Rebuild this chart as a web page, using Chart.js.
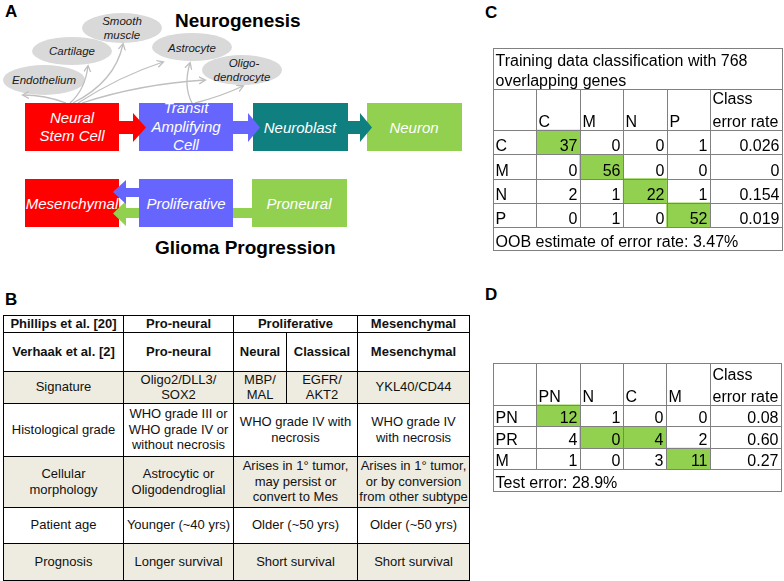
<!DOCTYPE html>
<html>
<head>
<meta charset="utf-8">
<script src="https://cdn.jsdelivr.net/npm/chart.js@4.4.0/dist/chart.umd.min.js"></script>
<style>
  html, body { margin: 0; padding: 0; background: #fff; }
  body { width: 784px; height: 581px; position: relative; overflow: hidden; font-family: "Liberation Sans", Arial, sans-serif; }
  #diagram { position: absolute; left: 0; top: 0; }
  .mat { position: absolute; }
  #tbl { position: absolute; left: 3px; top: 315px; width: 466px; border-collapse: collapse; table-layout: fixed;
         font-size: 13px; line-height: 15.5px; color: #111; border: 1.5px solid #000; }
  #tbl td { border: 1px solid #000; padding: 0; text-align: center; vertical-align: middle; white-space: nowrap; overflow: hidden; }
  #tbl tr.sh td { background: #eeece1; }
  #tbl tr.hd td { font-weight: bold; }
</style>
</head>
<body>
<svg id="diagram" width="784" height="581" xmlns="http://www.w3.org/2000/svg">
  <defs>
    <marker id="ah" markerWidth="9" markerHeight="9" refX="6" refY="4" orient="auto" markerUnits="userSpaceOnUse">
      <path d="M0,0.5 L6.5,4 L0,7.5" fill="none" stroke="#bfbfbf" stroke-width="1.3"/>
    </marker>
  </defs>
  <g font-family="'Liberation Sans', Arial, sans-serif">
    <text x="5" y="17" font-size="17" font-weight="bold">A</text>
    <text x="175" y="27" font-size="19" font-weight="bold">Neurogenesis</text>
    <text x="155" y="254" font-size="19" font-weight="bold">Glioma Progression</text>
    <text x="5" y="305" font-size="17" font-weight="bold">B</text>
    <text x="485" y="18" font-size="17" font-weight="bold">C</text>
    <text x="485" y="300" font-size="17" font-weight="bold">D</text>

    <!-- cell types reached from neural stem cells -->
    <g fill="#d9d9d9">
      <ellipse cx="44" cy="80" rx="41" ry="15"/>
      <ellipse cx="72" cy="51" rx="40" ry="14"/>
      <ellipse cx="122" cy="28" rx="40" ry="15"/>
      <ellipse cx="192" cy="47" rx="40" ry="14"/>
      <ellipse cx="242" cy="70" rx="40" ry="15"/>
    </g>
    <g fill="#1a1a1a" font-size="11.5" font-style="italic" text-anchor="middle">
      <text x="44" y="84">Endothelium</text>
      <text x="72" y="55">Cartilage</text>
      <text x="122" y="25">Smooth</text>
      <text x="122" y="39">muscle</text>
      <text x="192" y="52">Astrocyte</text>
      <text x="244" y="67">Oligo-</text>
      <text x="242" y="81">dendrocyte</text>
    </g>
    <g fill="none" stroke="#bfbfbf" stroke-width="1.3" marker-end="url(#ah)">
      <path d="M66,103 Q45,95 23,95"/>
      <path d="M70,103 Q85,90 88,66"/>
      <path d="M73,103 Q115,82 123,44"/>
      <path d="M78,103 Q120,76 163,62"/>
      <path d="M82,103 Q140,84 205,80"/>
      <path d="M192,103 Q183,86 190,63"/>
      <path d="M195,103 Q222,96 243,86"/>
    </g>

    <!-- neurogenesis row -->
    <rect x="25" y="103" width="94" height="48" fill="#ff0000"/>
    <rect x="139" y="103" width="94" height="48" fill="#6666ff"/>
    <rect x="253" y="103" width="95" height="48" fill="#0f7f7f"/>
    <rect x="367" y="103" width="95" height="48" fill="#92d050"/>
    <polygon points="119,121 133,121 133,113 146,127.5 133,142 133,134 119,134" fill="#ff0000"/>
    <polygon points="233,121 248,121 248,113 260,127.5 248,142 248,134 233,134" fill="#6666ff"/>
    <polygon points="348,121 360,121 360,113 372,127.5 360,142 360,134 348,134" fill="#0f7f7f"/>

    <!-- glioma row -->
    <rect x="25" y="179" width="94" height="48" fill="#ff0000"/>
    <polygon points="252,208 126,208 126,201 113,213.5 126,226 126,218 252,218" fill="#92d050"/>
    <rect x="139" y="179" width="94" height="48" fill="#6666ff"/>
    <polygon points="139,188 126,188 126,180 113,192 126,204 126,197 139,197" fill="#6666ff"/>
    <rect x="252" y="179" width="95" height="48" fill="#92d050"/>

    <g fill="#fff" font-size="15" font-style="italic" text-anchor="middle">
      <text x="72" y="123">Neural</text>
      <text x="72" y="141">Stem Cell</text>
      <text x="186" y="113">Transit</text>
      <text x="186" y="132">Amplifying</text>
      <text x="186" y="150">Cell</text>
      <text x="300" y="133">Neuroblast</text>
      <text x="414" y="133">Neuron</text>
      <text x="72" y="209">Mesenchymal</text>
      <text x="186" y="209">Proliferative</text>
      <text x="299" y="209">Proneural</text>
    </g>
  </g>
</svg>

<table id="tbl">
  <colgroup><col style="width:120px"><col style="width:110px"><col style="width:53px"><col style="width:71px"><col style="width:112px"></colgroup>
  <tr class="hd" style="height:15px"><td>Phillips et al. [20]</td><td>Pro-neural</td><td colspan="2">Proliferative</td><td>Mesenchymal</td></tr>
  <tr class="hd" style="height:39px"><td>Verhaak et al. [2]</td><td>Pro-neural</td><td>Neural</td><td>Classical</td><td>Mesenchymal</td></tr>
  <tr class="sh" style="height:31px"><td>Signature</td><td>Oligo2/DLL3/<br>SOX2</td><td>MBP/<br>MAL</td><td>EGFR/<br>AKT2</td><td>YKL40/CD44</td></tr>
  <tr style="height:53px"><td>Histological grade</td><td>WHO grade III or<br>WHO grade IV or<br>without necrosis</td><td colspan="2">WHO grade IV with<br>necrosis</td><td>WHO grade IV<br>with necrosis</td></tr>
  <tr class="sh" style="height:51px"><td>Cellular<br>morphology</td><td>Astrocytic or<br>Oligodendroglial</td><td colspan="2">Arises in 1° tumor,<br>may persist or<br>convert to Mes</td><td>Arises in 1° tumor,<br>or by conversion<br>from other subtype</td></tr>
  <tr style="height:36px"><td>Patient age</td><td>Younger (~40 yrs)</td><td colspan="2">Older (~50 yrs)</td><td>Older (~50 yrs)</td></tr>
  <tr class="sh" style="height:37px"><td>Prognosis</td><td>Longer survival</td><td colspan="2">Short survival</td><td>Short survival</td></tr>
</table>

<canvas id="matC" class="mat" width="291" height="204" style="left:492px;top:47px"></canvas>
<canvas id="matD" class="mat" width="290" height="130" style="left:492px;top:362px"></canvas>

<script>
// panel C: training data
var classesC = ['C', 'M', 'N', 'P'];
var countsC = [
  [37, 0, 0, 1],
  [0, 56, 0, 0],
  [2, 1, 22, 1],
  [0, 1, 0, 52]
];
var errorC = ['0.026', '0', '0.154', '0.019'];
var greenC = [[0], [1], [2], [3]];
var titleC = ['Training data classification with 768', 'overlapping genes'];
var footC = 'OOB estimate of error rate: 3.47%';

// panel D: test data
var rowsD = ['PN', 'PR', 'M'];
var colsD = ['PN', 'N', 'C', 'M'];
var countsD = [
  [12, 1, 0, 0],
  [4, 0, 4, 2],
  [1, 0, 3, 11]
];
var errorD = ['0.08', '0.60', '0.27'];
var greenD = [[0], [1, 2], [3]];
var footD = 'Test error: 28.9%';

var errorHead = ['Class', 'error rate'];

function tablePlugin(m) {
  return {
    id: 'tableCells',
    afterDatasetsDraw: function (chart) {
      var ctx = chart.ctx, sx = chart.scales.x, sy = chart.scales.y;
      var nc = m.cols.length, nr = m.rows.length;
      var errStart = nc + 1, xMax = errStart + m.errW;
      var yTop = -(m.headH + m.titleH), yEnd = nr + m.footH;
      function X(v) { return Math.round(sx.getPixelForValue(v)) + 0.5; }
      function Y(v) { return Math.round(sy.getPixelForValue(v)) + 0.5; }
      function line(x1, y1, x2, y2) {
        ctx.beginPath(); ctx.moveTo(x1, y1); ctx.lineTo(x2, y2); ctx.stroke();
      }
      ctx.save();
      ctx.strokeStyle = '#808080';
      ctx.lineWidth = 1;
      ctx.strokeRect(X(0), Y(yTop), X(xMax) - X(0), Y(yEnd) - Y(yTop));
      if (m.titleH > 0) line(X(0), Y(-m.headH), X(xMax), Y(-m.headH));
      for (var i = 0; i <= nr; i++) line(X(0), Y(i), X(xMax), Y(i));
      for (var j = 1; j <= errStart; j++) line(X(j), Y(-m.headH), X(j), Y(nr));

      ctx.fillStyle = '#000';
      ctx.font = '16px "Liberation Sans", Arial, sans-serif';
      ctx.textBaseline = 'alphabetic';
      ctx.textAlign = 'left';
      var lh = m.lineH, off = 3.5;
      m.title.forEach(function (t, k) {
        ctx.fillText(t, X(0) + 2, Y(-m.headH) - off - (m.title.length - 1 - k) * 20);
      });
      m.cols.forEach(function (c, j) { ctx.fillText(c, X(j + 1) + 2, Y(0) - off); });
      errorHead.forEach(function (t, k) {
        ctx.fillText(t, X(errStart) + 2, Y(0) - off - (errorHead.length - 1 - k) * lh);
      });
      m.rows.forEach(function (r, i) { ctx.fillText(r, X(0) + 2, Y(i + 1) - off); });
      ctx.fillText(m.foot, X(0) + 2, Y(yEnd) - off);
      ctx.textAlign = 'right';
      m.counts.forEach(function (row, i) {
        row.forEach(function (v, j) { ctx.fillText(String(v), X(j + 2) - 3, Y(i + 1) - off); });
        ctx.fillText(m.errors[i], X(xMax) - 3, Y(i + 1) - off);
      });
      ctx.restore();
    }
  };
}

function makeMatrix(id, m) {
  var nc = m.cols.length, nr = m.rows.length;
  var xMax = nc + 1 + m.errW;
  var cells = [];
  m.green.forEach(function (cols, i) {
    cols.forEach(function (j) { cells.push({ x: j + 1.5, y: [i, i + 1] }); });
  });
  new Chart(document.getElementById(id), {
    type: 'bar',
    data: {
      datasets: [{
        data: cells,
        backgroundColor: '#92d050',
        borderWidth: 0,
        barPercentage: 1,
        categoryPercentage: 1
      }]
    },
    options: {
      responsive: false,
      animation: false,
      layout: { padding: 1 },
      plugins: { legend: { display: false }, tooltip: { enabled: false } },
      scales: {
        x: {
          type: 'linear', min: 0, max: xMax, offset: false, display: false,
          grid: { offset: false },
          afterBuildTicks: function (s) { s.ticks = []; }
        },
        y: {
          type: 'linear', min: -(m.headH + m.titleH), max: nr + m.footH,
          reverse: true, display: false
        }
      }
    },
    plugins: [tablePlugin(m)]
  });
}

makeMatrix('matC', {
  rows: classesC, cols: classesC, counts: countsC, errors: errorC, green: greenC,
  title: titleC, foot: footC,
  errW: 1.66, titleH: 1.7, headH: 1.69, footH: 0.95, lineH: 23
});

makeMatrix('matD', {
  rows: rowsD, cols: colsD, counts: countsD, errors: errorD, green: greenD,
  title: [], foot: footD,
  errW: 1.64, titleH: 0, headH: 1.95, footH: 1, lineH: 22
});
</script>
</body>
</html>
